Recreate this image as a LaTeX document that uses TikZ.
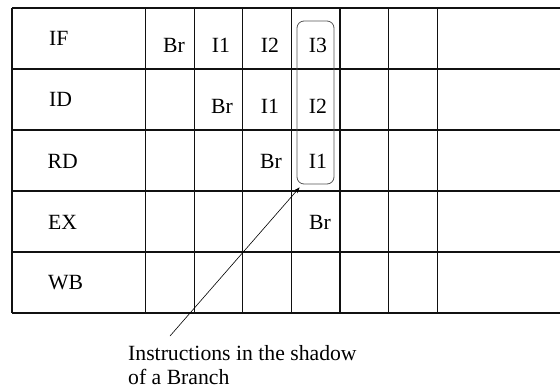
\documentclass[tikz,border=0pt]{standalone}
\usepackage{fontspec}
\setmainfont{Liberation Serif}
\usepackage{xcolor}
\usetikzlibrary{arrows.meta,positioning,calc}
\definecolor{gridInk}{HTML}{111111}
\definecolor{boxGray}{HTML}{555555}
\tikzset{
  gridLine/.style={line width=1.1pt, draw=gridInk},
  stageText/.style={anchor=west, inner sep=0pt, text=black},
  cellText/.style={inner sep=0pt, text=black},
  shadowBox/.style={
    draw=boxGray,
    rounded corners=7pt,
    line width=0.8pt,
    minimum width=37pt,
    minimum height=163pt,
    inner sep=0pt
  },
  shadowArrow/.style={-{Stealth[length=6pt,width=4.5pt]}, line width=0.6pt, draw=black},
  noteText/.style={align=left, inner sep=0pt, anchor=north west}
}

\begin{document}
\begin{tikzpicture}[x=1pt, y=-1pt,
    font=\fontsize{21.7}{24}\selectfont]
    \useasboundingbox (0,0) rectangle (560,389);

    % pipeline grid
    \foreach \y in {8,69,130,252,313}
      \draw[gridLine] (12,\y) -- (560,\y);
    \draw[gridLine, line width=1.6pt] (12,191) -- (560,191);
    \foreach \x in {12,145.7,194.3,242.9,291.4,340,388.6,437.1}
      \draw[gridLine] (\x,8) -- (\x,313);

    % stage names
    \node[stageText] (IF) at (49,38.5) {IF};
    \node[stageText] (ID) at (49,99.5) {ID};
    \node[stageText] (RD) at (47.5,161) {RD};
    \node[stageText] (EX) at (48,222) {EX};
    \node[stageText] (WB) at (48,282.5) {WB};

    % instructions in flight
    \node[cellText] (brIF) at (174,45) {Br};
    \node[cellText] (iOneIF) at (221,45) {I1};
    \node[cellText] (iTwoIF) at (270,45) {I2};
    \node[cellText] (iThreeIF) at (318,45) {I3};
    \node[cellText] (brID) at (222,106) {Br};
    \node[cellText] (iOneID) at (270,106) {I1};
    \node[cellText] (iTwoID) at (318,106) {I2};
    \node[cellText] (brRD) at (271,161) {Br};
    \node[cellText] (iOneRD) at (318,161) {I1};
    \node[cellText] (brEX) at (320,222) {Br};

    \node[shadowBox] (shadow) at (315.5,102.5) {};

    \node[noteText] (note) at (128,345.5)
      {Instructions in the shadow\\of a Branch};
    \coordinate (tail) at (170,336);
    \draw[shadowArrow] (tail) -- ($(shadow.south west)+(3,3)$);
  \end{tikzpicture}
\end{document}
